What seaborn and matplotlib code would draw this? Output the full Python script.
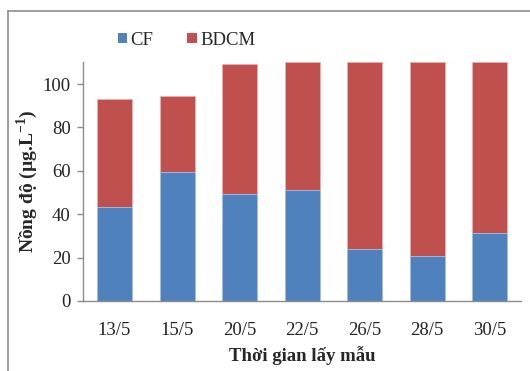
import matplotlib
matplotlib.use("Agg")
import matplotlib.pyplot as plt
from matplotlib.lines import Line2D
from matplotlib.patches import Patch
import seaborn as sns
import pandas as pd

# Sampling dates and concentrations (µg/L)
dates = ["13/5", "15/5", "20/5", "22/5", "26/5", "28/5", "30/5"]
cf = [43.3, 59.3, 49.3, 51.0, 24.0, 20.7, 31.3]
bdcm = [49.9, 35.3, 59.9, 59.0, 86.0, 89.3, 78.7]

blue = "#4F81BD"
red = "#C0504D"

sns.set_theme(style="white")
plt.rcParams["font.family"] = ["Liberation Serif", "DejaVu Serif"]
plt.rcParams["mathtext.fontset"] = "custom"
plt.rcParams["mathtext.rm"] = "Liberation Serif"
plt.rcParams["mathtext.bf"] = "Liberation Serif:bold"

df = pd.DataFrame({"date": dates, "CF": cf, "BDCM": bdcm})
df["total"] = df["CF"] + df["BDCM"]

fig = plt.figure(figsize=(5.30, 3.71), dpi=100)
ax = fig.add_axes([0.157, 0.189, 0.826, 0.643])

# stacked bars: full height in red, CF part in blue on top of it
sns.barplot(data=df, x="date", y="total", color=red, saturation=1, width=0.56,
            edgecolor="#E8B0AE", linewidth=0.6, ax=ax)
sns.barplot(data=df, x="date", y="CF", color=blue, saturation=1, width=0.56,
            edgecolor="#A9C4E4", linewidth=0.6, ax=ax)

ax.set_ylim(0, 110)
ax.set_yticks([0, 20, 40, 60, 80, 100])
ax.set_xlim(-0.5, 6.5)
for s in ["top", "right"]:
    ax.spines[s].set_visible(False)
for s in ["left", "bottom"]:
    ax.spines[s].set_color("#8C8C8C")
    ax.spines[s].set_linewidth(1.0)
ax.tick_params(axis="y", which="both", left=True, length=4, width=1.0,
               color="#8C8C8C", labelsize=13.5, pad=5, labelcolor="#222222")
ax.tick_params(axis="x", bottom=False, labelsize=13.5, pad=9, labelcolor="#222222")

ax.set_xlabel("Thời gian lấy mẫu", fontsize=13.5, fontweight="bold", labelpad=5)
ax.set_ylabel(r"Nồng độ (µg.L$^{\mathbf{-1}}$)", fontsize=14, fontweight="bold",
              labelpad=2)

handles = [Patch(facecolor=blue, edgecolor="none"), Patch(facecolor=red, edgecolor="none")]
fig.legend(handles, ["CF", "BDCM"], loc="center", bbox_to_anchor=(0.352, 0.892),
           ncol=2, frameon=False, fontsize=13.5, handlelength=0.5, handleheight=0.5,
           handletextpad=0.2, columnspacing=1.8)

# thin gray frame around the chart area
fig.add_artist(Line2D([8 / 530, 8 / 530], [0, 1 - 11 / 371], transform=fig.transFigure,
                      color="#8C8C8C", linewidth=1.2))
fig.add_artist(Line2D([8 / 530, 1], [1 - 11 / 371, 1 - 11 / 371], transform=fig.transFigure,
                      color="#8C8C8C", linewidth=1.2))

fig.savefig("out.png", dpi=100)
